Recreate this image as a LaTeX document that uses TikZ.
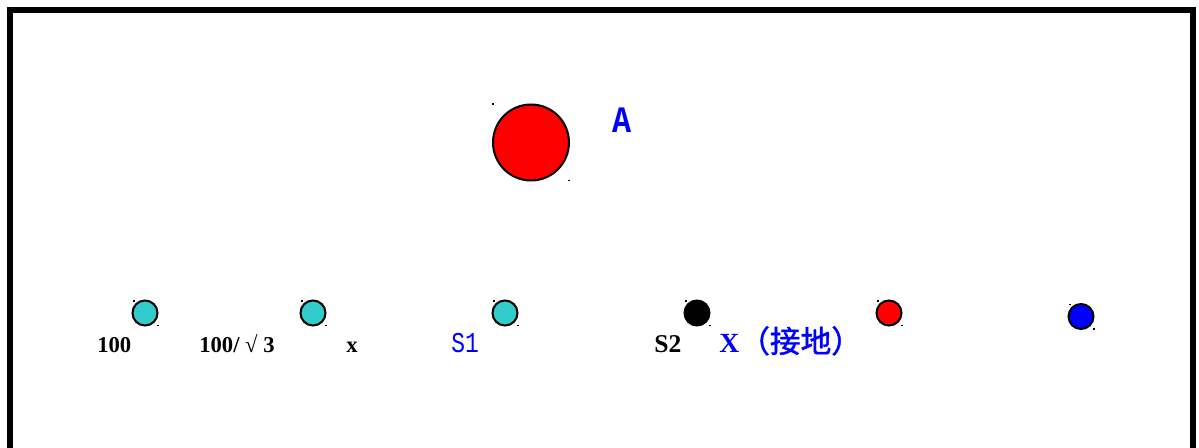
\documentclass[tikz,border=0pt]{standalone}
\usepackage{fontspec}
\setmainfont{Liberation Serif}
\newfontfamily\monolike[FakeStretch=0.8]{Liberation Mono}
\newfontfamily\monoA[FakeStretch=0.85]{Liberation Mono}
\newfontfamily\cjk{Noto Sans CJK SC}[AutoFakeBold=1.5]
\newfontfamily\serifbold{Liberation Serif Bold}
\definecolor{tealfill}{RGB}{51,204,204}
\definecolor{pureblue}{RGB}{0,0,255}
\definecolor{purered}{RGB}{255,0,0}
\begin{document}
\begin{tikzpicture}[x=0.75pt,y=-0.75pt,
  ball/.style={circle,draw=black,line width=1.5pt,inner sep=0pt,minimum size=18.75pt},
  bigball/.style={circle,draw=black,line width=1.5pt,inner sep=0pt,minimum size=57pt,fill=purered},
  handle/.style={fill=black,draw=none,minimum width=1.5pt,minimum height=1.1pt,inner sep=0pt,rectangle},
  blab/.style={font=\bfseries\fontsize{17}{17}\selectfont,anchor=base west,inner sep=0pt},
  slab/.style={font=\monolike\fontsize{21.5}{21.5}\selectfont,anchor=base west,inner sep=0pt,text=pureblue}]
\useasboundingbox (0,0) rectangle (1199,448);
\clip (0,0) rectangle (1199,448);
% frame
\draw[line width=4.5pt] (10,470) -- (10,10.5) -- (1192.5,10.5) -- (1192.5,470);
% big ball
\node[bigball] (A) at (531,142.5) {};
\node[handle] (Ah1) at (493,104) {};
\node[handle] (Ah2) at (569,180.5) {};
\node[font=\monoA\bfseries\fontsize{28}{28}\selectfont,anchor=base west,inner sep=0pt,text=pureblue] (Alab) at (612,132.3) {A};
% small balls
\foreach \n/\x/\y/\c in {b1/145/313/tealfill, b2/313/313/tealfill, b3/505/313/tealfill, b4/697/313/black, b5/889/313/purered, b6/1081/316.5/pureblue}{
  \node[ball,fill=\c] (\n) at (\x,\y) {};
  \node[handle] (\n h1) at (\x-11.5,\y-12) {};
  \node[handle] (\n h2) at (\x+13,\y+12.5) {};
}
% labels
\node[blab] (l1) at (97,352.5) {100};
\node[blab] (l2) at (199,352.5) {100/ √ 3};
\node[blab] (l3) at (346,352.5) {x};
\node[slab] (l4) at (451,352.5) {S1};
\node[blab,font=\bfseries\fontsize{19.2}{19.2}\selectfont] (l5) at (654,352.5) {S2};
\node[anchor=base west,inner sep=0pt,text=pureblue] (l6) at (719,352.5) {{\serifbold\fontsize{20.8}{20.8}\selectfont X}{\cjk\bfseries\fontsize{23}{23}\selectfont （接地）}};
\end{tikzpicture}
\end{document}
